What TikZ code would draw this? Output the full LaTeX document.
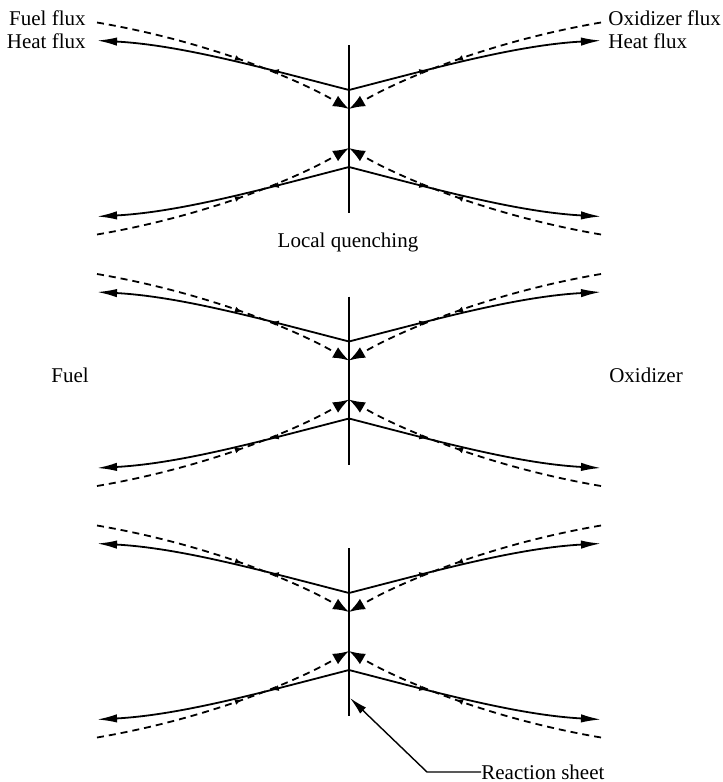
\documentclass[tikz,border=0pt]{standalone}
\usepackage{fontspec}
\setmainfont{Liberation Serif}
\usetikzlibrary{arrows.meta,decorations.markings}
\tikzset{
  heat/.style={line width=0.9pt, -{Latex[length=10pt,width=4.2pt]},
    postaction={decorate},
    decoration={markings, mark=at position 0.31 with {\arrow{Latex[length=3.5pt,width=3pt]}}}},
  flux/.style={line width=0.9pt, dash pattern=on 3.5pt off 2.5pt, -{Latex[length=8pt,width=6pt]},
    postaction={decorate},
    decoration={markings, mark=at position 0.56 with {\arrow{Latex[length=3.5pt,width=3pt]}}}},
  sheet/.style={line width=0.8pt},
  lbl/.style={font=\fontsize{10.5}{12}\selectfont, inner sep=0pt}
}
\newcommand\quadpart{%
  \draw[heat] (0,-38.5) .. controls (-89,-61.5) and (-169,-83.5) .. (-252,-88);
  \draw[flux] (-252,-106) .. controls (-149,-88.5) and (-59,-53.5) .. (0,-19.5);
}
\begin{document}
\begin{tikzpicture}[x=0.5pt,y=-0.5pt]
\path[use as bounding box] (0,0) rectangle (723,782);
\foreach \dy in {0,251.5,503}{
  \begin{scope}[shift={(0,\dy)}]
    \draw[sheet] (349,45) -- (349,213);
    \foreach \sx/\sy in {1/1,-1/1,1/-1,-1/-1}{
      \begin{scope}[shift={(349,128.5)}, xscale=\sx, yscale=\sy]
        \quadpart
      \end{scope}
    }
  \end{scope}
}
\node[lbl, anchor=east] (ff) at (86,18) {Fuel flux};
\node[lbl, anchor=east] (hfl) at (86,41) {Heat flux};
\node[lbl, anchor=west] (of) at (608,18) {Oxidizer flux};
\node[lbl, anchor=west] (hfr) at (608,41) {Heat flux};
\node[lbl] (lq) at (348,242) {Local quenching};
\node[lbl] (fuel) at (70,375) {Fuel};
\node[lbl] (ox) at (646,375) {Oxidizer};
\node[lbl, anchor=west] (rs) at (481,772) {Reaction sheet};
\coordinate (rknee) at (427,772);
\coordinate (rtip) at (350,698);
\draw[line width=0.7pt, -{Latex[length=9pt,width=4.2pt]}] (rs.west) -- (rknee) -- (rtip);
\end{tikzpicture}
\end{document}
